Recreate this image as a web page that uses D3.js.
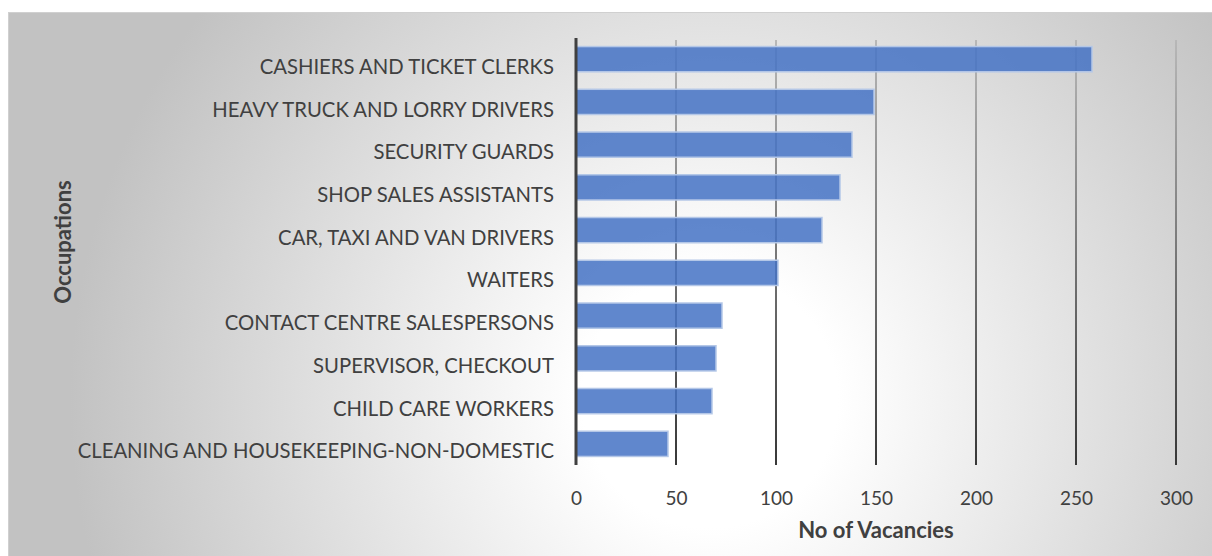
<!DOCTYPE html>
<html>
<head>
<meta charset="utf-8">
<script src="https://cdn.jsdelivr.net/npm/d3@7"></script>
<style>
  html, body { margin: 0; padding: 0; background: #ffffff; }
  svg { display: block; }
  text { font-family: Lato, "Open Sans", sans-serif; fill: #404040; }
</style>
</head>
<body>
<svg id="chart" width="1212" height="556"></svg>
<script>
// Occupations, top to bottom
const occupations = [
  "CASHIERS AND TICKET CLERKS",
  "HEAVY TRUCK AND LORRY DRIVERS",
  "SECURITY GUARDS",
  "SHOP SALES ASSISTANTS",
  "CAR, TAXI AND VAN DRIVERS",
  "WAITERS",
  "CONTACT CENTRE SALESPERSONS",
  "SUPERVISOR, CHECKOUT",
  "CHILD CARE WORKERS",
  "CLEANING AND HOUSEKEEPING-NON-DOMESTIC"
];
// Number of vacancies per occupation
const vacancies = [258, 149, 138, 132, 123, 101, 73, 70, 68, 46];
// Axis ticks
const xTicks = [0, 50, 100, 150, 200, 250, 300];

const svg = d3.select("#chart");
const W = 1212, H = 556;

const defs = svg.append("defs");
const bg = defs.append("radialGradient")
  .attr("id", "bgGrad")
  .attr("gradientUnits", "userSpaceOnUse")
  .attr("cx", 710).attr("cy", 400).attr("r", 640);
bg.append("stop").attr("offset", "0").attr("stop-color", "#ffffff");
bg.append("stop").attr("offset", "0.2").attr("stop-color", "#ffffff");
bg.append("stop").attr("offset", "1").attr("stop-color", "#c2c2c2");

const gridGrad = defs.append("linearGradient")
  .attr("id", "gridGrad")
  .attr("gradientUnits", "userSpaceOnUse")
  .attr("x1", 0).attr("y1", 38).attr("x2", 0).attr("y2", 465);
gridGrad.append("stop").attr("offset", "0").attr("stop-color", "#b8b8b8");
gridGrad.append("stop").attr("offset", "1").attr("stop-color", "#383838");

// Chart area background
svg.append("rect")
  .attr("x", 8.5).attr("y", 12.5)
  .attr("width", W - 8).attr("height", H - 12)
  .attr("fill", "url(#bgGrad)")
  .attr("stroke", "#d0d0d0").attr("stroke-width", 1);

const margin = { left: 576, right: 36, top: 38, bottom: 91 };
const x = d3.scaleLinear().domain([0, 300]).range([margin.left, W - margin.right]);
const y = d3.scaleBand().domain(occupations)
  .range([margin.top, H - margin.bottom])
  .paddingInner(0.41).paddingOuter(0.2);

// Vertical gridlines
svg.append("g")
  .selectAll("line")
  .data(xTicks.filter(d => d > 0))
  .join("line")
  .attr("x1", d => x(d)).attr("x2", d => x(d))
  .attr("y1", margin.top + 2).attr("y2", H - margin.bottom)
  .attr("stroke", "url(#gridGrad)")
  .attr("stroke-width", 2);

// Bars
svg.append("g")
  .selectAll("rect")
  .data(occupations)
  .join("rect")
  .attr("x", x(0))
  .attr("y", d => y(d))
  .attr("width", (d, i) => x(vacancies[i]) - x(0))
  .attr("height", y.bandwidth())
  .attr("fill", "#4472c4")
  .attr("fill-opacity", 0.85)
  .attr("stroke", "#b4c7e7")
  .attr("stroke-width", 1.5);

// Category axis
const yAxis = svg.append("g")
  .attr("transform", `translate(${x(0)},0)`)
  .call(d3.axisLeft(y).tickSize(0).tickPadding(22));
yAxis.select(".domain").remove();
svg.append("line")
  .attr("x1", x(0)).attr("x2", x(0))
  .attr("y1", margin.top).attr("y2", H - margin.bottom)
  .attr("stroke", "#404040").attr("stroke-width", 3);
yAxis.selectAll("text")
  .attr("dy", "0.72em")
  .style("font-family", "Lato, 'Open Sans', sans-serif")
  .style("font-size", "20.3px")
  .attr("fill", "#404040");

// Value axis
const xAxis = svg.append("g")
  .attr("transform", `translate(0,${H - margin.bottom})`)
  .call(d3.axisBottom(x).tickValues(xTicks).tickSize(0).tickPadding(27));
xAxis.select(".domain").remove();
xAxis.selectAll("text")
  .style("font-family", "Lato, 'Open Sans', sans-serif")
  .style("font-size", "19px")
  .attr("fill", "#404040");

// Axis titles
svg.append("text")
  .attr("x", x(150)).attr("y", 538)
  .attr("text-anchor", "middle")
  .style("font-size", "22px").style("font-weight", "bold")
  .text("No of Vacancies");

svg.append("text")
  .attr("transform", "translate(71,242) rotate(-90)")
  .attr("text-anchor", "middle")
  .style("font-size", "22px").style("font-weight", "bold")
  .text("Occupations");
</script>
</body>
</html>
